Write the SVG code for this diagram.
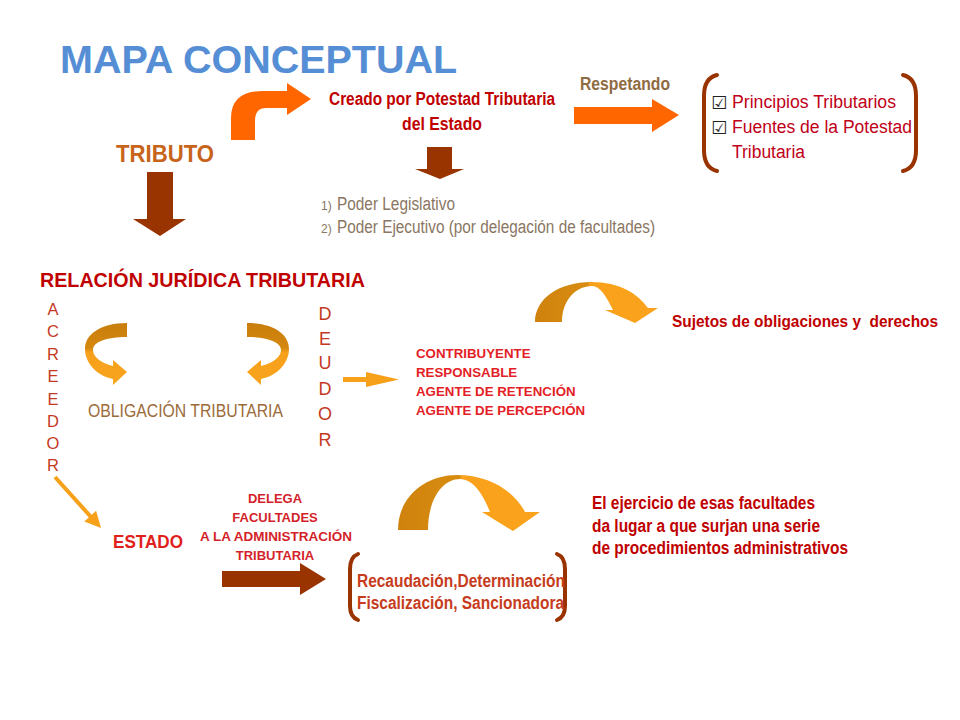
<svg xmlns="http://www.w3.org/2000/svg" width="960" height="720" viewBox="0 0 960 720">
<defs>
<style>
text{font-family:"Liberation Sans",Arial,"DejaVu Sans",sans-serif}
.b{font-weight:bold}
.brown{fill:#993300}
.orange{fill:#FF6600}
.lorange{fill:#F7A11A}
.brk{fill:none;stroke:#993300;stroke-width:4;stroke-linecap:round}
.red{fill:#C00000}
.rr{fill:#C43A1F}
.br{fill:#E41E26}
.chk{font-family:"DejaVu Sans",sans-serif;fill:#222}
</style>
<linearGradient id="gSide" x1="0" y1="0" x2="0" y2="1">
<stop offset="0" stop-color="#C97D0C"/>
<stop offset="0.4" stop-color="#D4880F"/>
<stop offset="0.48" stop-color="#F7A11B"/>
<stop offset="1" stop-color="#F9A41E"/>
</linearGradient>
<linearGradient id="gArc" x1="0" y1="0" x2="1" y2="0">
<stop offset="0" stop-color="#CF830E"/>
<stop offset="0.43" stop-color="#D88C10"/>
<stop offset="0.45" stop-color="#F9A11B"/>
<stop offset="1" stop-color="#FBA31C"/>
</linearGradient>
</defs>
<rect width="960" height="720" fill="#FFFFFF"/>

<g id="title"><text x="60" y="73" class="b" font-size="39.5" fill="#558ED5">MAPA CONCEPTUAL</text></g>

<g id="tributo"><text x="116" y="162" class="b" font-size="23" fill="#C8641A" textLength="98" lengthAdjust="spacingAndGlyphs">TRIBUTO</text></g>

<g id="creado">
<text x="329" y="105" class="b red" font-size="18" textLength="226" lengthAdjust="spacingAndGlyphs">Creado por Potestad Tributaria</text>
<text x="402" y="130" class="b red" font-size="18" textLength="80" lengthAdjust="spacingAndGlyphs">del Estado</text>
</g>

<g id="respetando"><text x="580" y="90" class="b" font-size="18" fill="#8F6B42" textLength="90" lengthAdjust="spacingAndGlyphs">Respetando</text></g>

<g id="principios">
<path class="brk" d="M717 75 Q704 78 704 96 L704 150 Q704 168 717 171"/>
<path class="brk" d="M903 75 Q916 78 916 96 L916 150 Q916 168 903 171"/>
<text x="711" y="109" font-size="18" class="chk">☑</text>
<text x="711" y="134" font-size="18" class="chk">☑</text>
<text x="732" y="108" font-size="18" fill="#C00018" textLength="164" lengthAdjust="spacingAndGlyphs">Principios Tributarios</text>
<text x="732" y="133" font-size="18" fill="#C00018" textLength="180" lengthAdjust="spacingAndGlyphs">Fuentes de la Potestad</text>
<text x="732" y="158" font-size="18" fill="#C00018" textLength="73" lengthAdjust="spacingAndGlyphs">Tributaria</text>
</g>

<g id="poderes" fill="#8A7662">
<text x="321" y="210" font-size="12">1)</text>
<text x="337" y="210" font-size="18" textLength="118" lengthAdjust="spacingAndGlyphs">Poder Legislativo</text>
<text x="321" y="233" font-size="12">2)</text>
<text x="337" y="233" font-size="18" textLength="318" lengthAdjust="spacingAndGlyphs">Poder Ejecutivo (por delegación de facultades)</text>
</g>

<g id="relacion"><text x="40" y="287" class="b red" font-size="21" textLength="325" lengthAdjust="spacingAndGlyphs">RELACIÓN JURÍDICA TRIBUTARIA</text></g>

<g id="acreedor" class="rr" font-size="16.5" text-anchor="middle">
<text x="53" y="315">A</text>
<text x="53" y="337">C</text>
<text x="53" y="360">R</text>
<text x="53" y="382">E</text>
<text x="53" y="405">E</text>
<text x="53" y="427">D</text>
<text x="53" y="449">O</text>
<text x="53" y="471">R</text>
</g>

<g id="deudor" class="rr" font-size="18" text-anchor="middle">
<text x="325" y="320">D</text>
<text x="325" y="345">E</text>
<text x="325" y="369">U</text>
<text x="325" y="395">D</text>
<text x="325" y="420">O</text>
<text x="325" y="446">R</text>
</g>

<g id="obligacion"><text x="88" y="417" font-size="17.5" fill="#9C6B3A" textLength="195" lengthAdjust="spacingAndGlyphs">OBLIGACIÓN TRIBUTARIA</text></g>

<g id="tipos-deudor" class="b br" font-size="13.3">
<text x="416" y="358">CONTRIBUYENTE</text>
<text x="416" y="377">RESPONSABLE</text>
<text x="416" y="396">AGENTE DE RETENCIÓN</text>
<text x="416" y="415">AGENTE DE PERCEPCIÓN</text>
</g>

<g id="sujetos"><text x="672" y="327" class="b red" font-size="16" textLength="266" lengthAdjust="spacingAndGlyphs" xml:space="preserve">Sujetos de obligaciones y  derechos</text></g>

<g id="estado"><text x="113" y="548" class="b" font-size="19" fill="#E0201B" textLength="70" lengthAdjust="spacingAndGlyphs">ESTADO</text></g>

<g id="delega" class="b" font-size="13" fill="#D41F2A" text-anchor="middle">
<text x="275" y="503">DELEGA</text>
<text x="275" y="522">FACULTADES</text>
<text x="276" y="541" textLength="152" lengthAdjust="spacingAndGlyphs">A LA ADMINISTRACIÓN</text>
<text x="275" y="560">TRIBUTARIA</text>
</g>

<g id="facultades">
<path class="brk" d="M358 554 Q350 557 350 569 L350 606 Q350 617 358 620"/>
<path class="brk" d="M557 554 Q565 557 565 569 L565 606 Q565 617 557 620"/>
<text x="357" y="587" class="b" font-size="17.5" fill="#C63C1C" textLength="208" lengthAdjust="spacingAndGlyphs">Recaudación,Determinación</text>
<text x="357" y="609" class="b" font-size="17.5" fill="#C63C1C" textLength="207" lengthAdjust="spacingAndGlyphs">Fiscalización, Sancionadora</text>
</g>

<g id="ejercicio" class="b red" font-size="17.5">
<text x="592" y="509" textLength="223" lengthAdjust="spacingAndGlyphs">El ejercicio de esas facultades</text>
<text x="592" y="532" textLength="228" lengthAdjust="spacingAndGlyphs">da lugar a que surjan una serie</text>
<text x="592" y="554" textLength="256" lengthAdjust="spacingAndGlyphs">de procedimientos administrativos</text>
</g>

<g id="connectors">
<path class="orange" d="M231 140 L231 118 Q231 91 263 91 L287 91 L287 83 L311 99 L287 115 L287 108 L266 108 Q255 108 255 121 L255 140 Z"/>
<path class="orange" d="M574 107 L652 107 L652 99 L679 115 L652 132 L652 124 L574 124 Z"/>
<path class="brown" d="M427 147 L452 147 L452 169 L464 169 L440 179 L415 169 L427 169 Z"/>
<path class="brown" d="M147 172 L173 172 L173 219 L186 219 L160 236 L133 219 L147 219 Z"/>
<path fill="url(#gSide)" d="M127 323 C101 323 85 334 85 349 C85 364 98 376 113 379 L113 385 L127 372 L113 360 L113 366 C101 363 93 357 93 350 C93 342 106 337 127 337 Z"/>
<path fill="url(#gSide)" transform="translate(374 0) scale(-1 1)" d="M127 323 C101 323 85 334 85 349 C85 364 98 376 113 379 L113 385 L127 372 L113 360 L113 366 C101 363 93 357 93 350 C93 342 106 337 127 337 Z"/>
<path class="lorange" d="M343 377 L366 377 L366 372 L399 379.5 L366 387 L366 382 L343 382 Z"/>
<path fill="url(#gArc)" d="M535 322 C535 298 560 282 591 282 C620 282 638 294 648 308 L658 308 L635 323 L605 310 L613 310 C606 296 600 286 592 286 C576 286 562 300 562 322 Z"/>
<line x1="55" y1="477" x2="91" y2="517" stroke="#F7A11A" stroke-width="4"/>
<polygon class="lorange" points="101,528 84.3,521.6 96.1,510.8"/>
<path class="brown" d="M222 571 L300 571 L300 563 L326 579 L300 595 L300 587 L222 587 Z"/>
<path fill="url(#gArc)" d="M398 530 C398 497 425 475 457 475 C490 475 515 492 525 512 L540 512 L513 531 L482 512 L490 512 C483 494 473 479 460 479 C442 479 428 500 428 530 Z"/>
</g>
</svg>
